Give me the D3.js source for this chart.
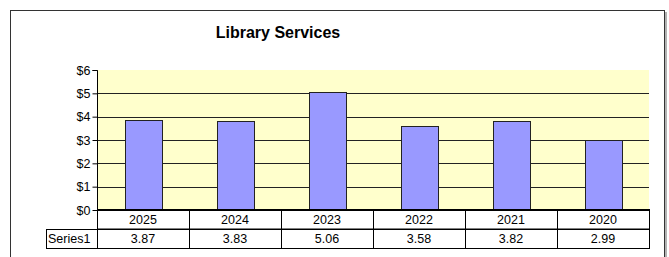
<!DOCTYPE html>
<html>
<head>
<meta charset="utf-8">
<script src="https://cdn.jsdelivr.net/npm/d3@7"></script>
<style>
  html, body { margin: 0; padding: 0; background: #fff; }
  svg { display: block; font-family: "Liberation Sans", Arial, sans-serif; }
</style>
</head>
<body>
<svg id="chart" width="669" height="257"></svg>
<script>
const title = 'Library Services';
const seriesName = 'Series1';
const years = ['2025', '2024', '2023', '2022', '2021', '2020'];
const values = [3.87, 3.83, 5.06, 3.58, 3.82, 2.99];
const yTicks = [0, 1, 2, 3, 4, 5, 6];

const svg = d3.select('#chart');
const plotLeft = 97, plotRight = 649, plotTop = 70, plotBottom = 210;
const row1 = 229, row2 = 248, labelLeft = 46;

// outer frame (bottom runs off the picture)
svg.append('rect')
  .attr('x', 10.5).attr('y', 10.5)
  .attr('width', 654).attr('height', 280)
  .attr('fill', '#fff').attr('stroke', '#333');
svg.append('line')
  .attr('x1', 666).attr('x2', 666).attr('y1', 12).attr('y2', 257)
  .attr('stroke', '#999').attr('stroke-width', 1.5);

svg.append('text')
  .attr('x', 278).attr('y', 38)
  .attr('text-anchor', 'middle')
  .attr('font-size', 16).attr('font-weight', 'bold')
  .text(title);

const x = d3.scaleBand().domain(years).range([plotLeft, plotRight]).paddingInner(0.6).paddingOuter(0.3);
const cell = d3.scaleBand().domain(years).range([plotLeft, plotRight]);
const y = d3.scaleLinear().domain([0, 6]).range([plotBottom, plotTop]);

svg.append('rect')
  .attr('x', plotLeft).attr('y', plotTop)
  .attr('width', plotRight - plotLeft).attr('height', plotBottom - plotTop)
  .attr('fill', '#ffffcc');

svg.append('g')
  .selectAll('line')
  .data(yTicks.slice(1, -1))
  .enter()
  .append('line')
  .attr('x1', plotLeft).attr('x2', plotRight)
  .attr('y1', d => Math.round(y(d)) + 0.5).attr('y2', d => Math.round(y(d)) + 0.5)
  .attr('stroke', '#222');

svg.append('g')
  .selectAll('rect')
  .data(values)
  .enter()
  .append('rect')
  .attr('x', (d, i) => Math.round(x(years[i])) + 0.5)
  .attr('y', d => Math.round(y(d)) + 0.5)
  .attr('width', Math.round(x.bandwidth()))
  .attr('height', d => plotBottom - Math.round(y(d)))
  .attr('fill', '#9999ff')
  .attr('stroke', '#222');

const axis = svg.append('g')
  .attr('transform', 'translate(' + (plotLeft + 0.5) + ',0)')
  .call(d3.axisLeft(y).tickValues(yTicks).tickSize(5).tickPadding(2).tickFormat(d => '$' + d));
axis.selectAll('text').attr('font-size', 12.5).attr('fill', '#000').attr('font-family', '"Liberation Sans", Arial, sans-serif');
axis.selectAll('line, path').attr('stroke', '#000');
axis.select('.domain').attr('d', 'M-5,' + (plotTop + 0.5) + 'H0V' + plotBottom);

// data table
const table = svg.append('g');
table.append('rect')
  .attr('x', plotLeft + 0.5).attr('y', plotBottom)
  .attr('width', plotRight - plotLeft).attr('height', row1 - plotBottom)
  .attr('fill', 'none').attr('stroke', '#000');
table.append('rect')
  .attr('x', labelLeft + 0.5).attr('y', row1 + 0.5)
  .attr('width', plotRight - labelLeft).attr('height', row2 - row1)
  .attr('fill', 'none').attr('stroke', '#000');
table.append('line')
  .attr('x1', plotLeft + 0.5).attr('x2', plotLeft + 0.5).attr('y1', plotBottom).attr('y2', row2)
  .attr('stroke', '#000');
table.selectAll('line.div')
  .data(years.slice(1))
  .enter()
  .append('line')
  .attr('x1', d => Math.round(cell(d)) + 0.5).attr('x2', d => Math.round(cell(d)) + 0.5)
  .attr('y1', plotBottom).attr('y2', row2)
  .attr('stroke', '#000');
table.selectAll('text.year')
  .data(years)
  .enter()
  .append('text')
  .attr('x', d => cell(d) + cell.bandwidth() / 2)
  .attr('y', row1 - 5)
  .attr('text-anchor', 'middle').attr('font-size', 12.5)
  .text(d => d);
table.selectAll('text.val')
  .data(values)
  .enter()
  .append('text')
  .attr('x', (d, i) => cell(years[i]) + cell.bandwidth() / 2)
  .attr('y', row2 - 5)
  .attr('text-anchor', 'middle').attr('font-size', 12.5)
  .text(d => d.toFixed(2));
table.append('text')
  .attr('x', labelLeft + 2).attr('y', row2 - 5)
  .attr('font-size', 12.5)
  .text(seriesName);

// thick zero line
svg.append('line')
  .attr('x1', plotLeft).attr('x2', plotRight + 1)
  .attr('y1', plotBottom).attr('y2', plotBottom)
  .attr('stroke', '#000').attr('stroke-width', 2);
</script>
</body>
</html>
